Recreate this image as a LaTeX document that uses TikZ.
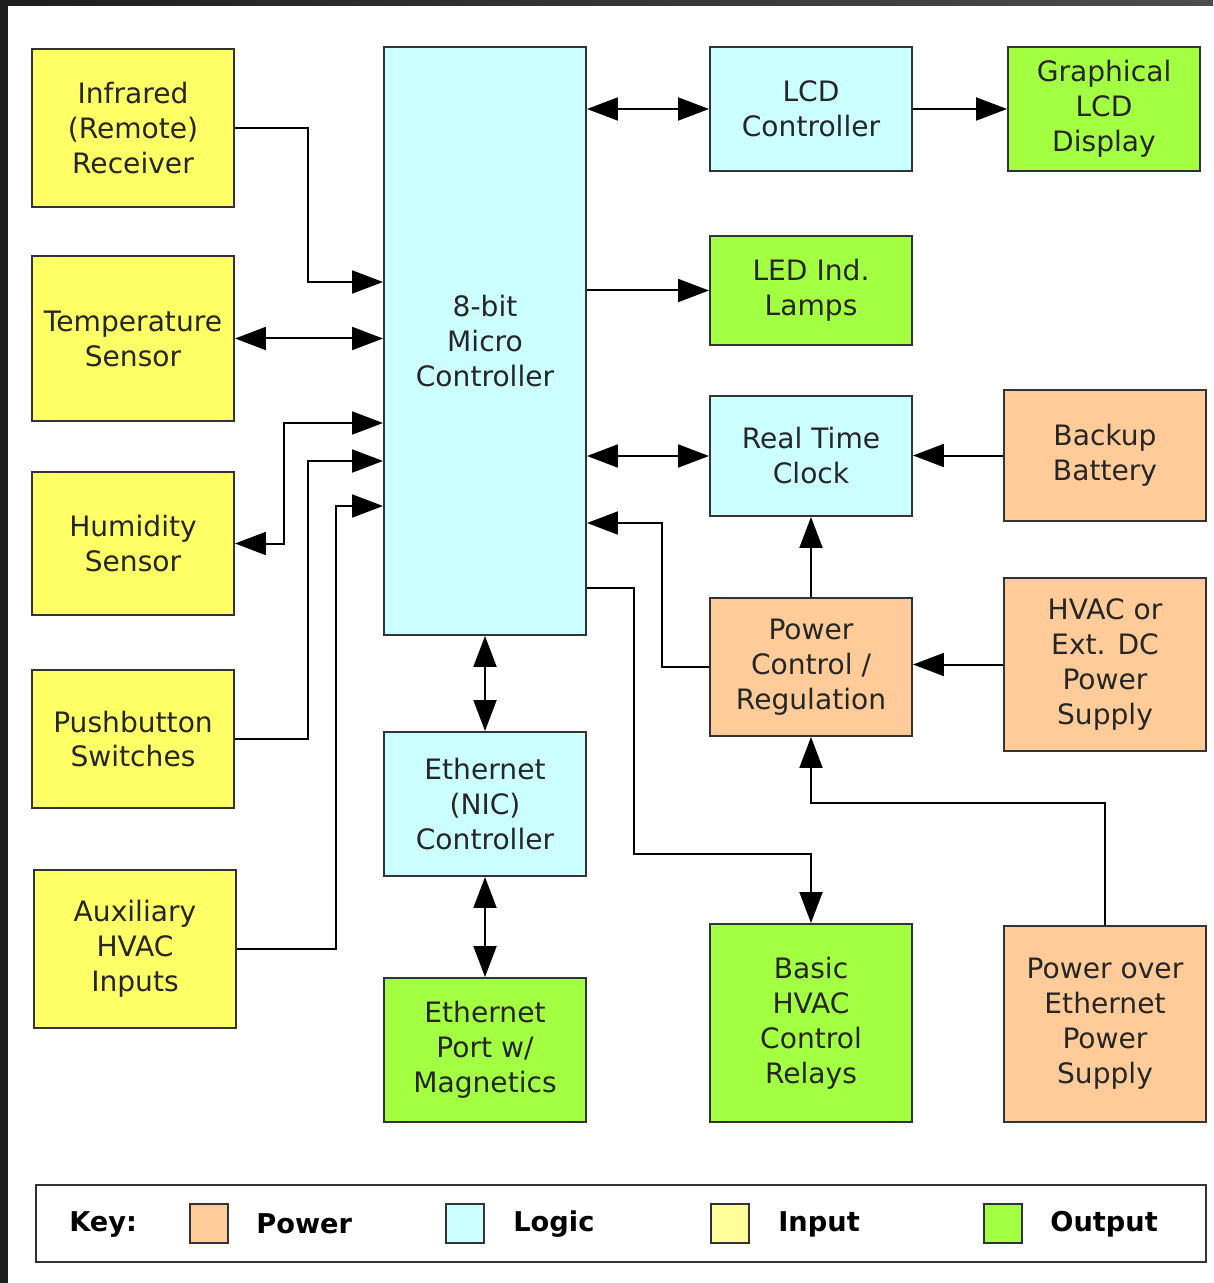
\documentclass[tikz,border=0pt]{standalone}
\usepackage{fontspec}
\setmainfont{DejaVu Sans}
\usetikzlibrary{arrows.meta, positioning, calc}
\definecolor{pwrorange}{HTML}{FFCC99}
\definecolor{logiccyan}{HTML}{CCFFFF}
\definecolor{inyellow}{HTML}{FFFF66}
\definecolor{keyyellow}{HTML}{FFFF99}
\definecolor{outgreen}{HTML}{A2FF42}
\definecolor{framegrey}{HTML}{1E1E1E}
\tikzset{blk/.style={draw=black!80, line width=0.04cm, minimum width=4.04cm, inner sep=0pt, align=center,
    text=black!85, font=\fontsize{16}{19.9}\selectfont}}
\tikzset{arr/.style={-{Triangle[length=0.62cm, width=0.46cm]}, line width=0.04cm}}
\tikzset{dbl/.style={{Triangle[length=0.62cm, width=0.46cm]}-{Triangle[length=0.62cm, width=0.46cm]}, line width=0.04cm}}
\tikzset{swatch/.style={draw=black!80, line width=0.04cm, minimum width=0.76cm, minimum height=0.78cm, inner sep=0pt}}
\tikzset{keytext/.style={anchor=west, inner sep=0pt, font=\fontsize{15.5}{19}\selectfont\bfseries}}

\begin{document}
\begin{tikzpicture}[x=0.02cm, y=-0.02cm]
    \useasboundingbox (0,0) rectangle (1213,1283);
    % frame
    \fill[framegrey] (0,0) rectangle (1213,1283);
    \shade[left color=framegrey, right color=black!70] (8,0) rectangle (1213,6);
    \fill[white] (8,6) rectangle (1213,1283);

    % inputs
    \node[blk, fill=inyellow, minimum height=3.16cm] (IR)  at (133,128)   {Infrared\\(Remote)\\Receiver};
    \node[blk, fill=inyellow, minimum height=3.30cm] (TS)  at (133,338.5) {Temperature\\Sensor};
    \node[blk, fill=inyellow, minimum height=2.86cm] (HS)  at (133,543.5) {Humidity\\Sensor};
    \node[blk, fill=inyellow, minimum height=2.76cm] (PB)  at (133,739)   {Pushbutton\\Switches};
    \node[blk, fill=inyellow, minimum height=3.16cm] (AUX) at (135,949)   {Auxiliary\\HVAC\\Inputs};

    % logic
    \node[blk, fill=logiccyan, minimum height=11.76cm] (MCU)  at (485,341) {8-bit\\Micro\\Controller};
    \node[blk, fill=logiccyan, minimum height=2.48cm]  (LCDC) at (811,109) {LCD\\Controller};
    \node[blk, fill=logiccyan, minimum height=2.40cm]  (RTC)  at (811,456) {Real Time\\Clock};
    \node[blk, fill=logiccyan, minimum height=2.88cm]  (NIC)  at (485,804) {Ethernet\\(NIC)\\Controller};

    % outputs
    \node[blk, fill=outgreen, minimum width=3.84cm, minimum height=2.48cm] (GLCD) at (1104,109) {Graphical\\LCD\\Display};
    \node[blk, fill=outgreen, minimum height=2.18cm] (LED)  at (811,290.5) {LED Ind.\\Lamps};
    \node[blk, fill=outgreen, minimum height=2.88cm] (PORT) at (485,1050)  {Ethernet\\Port w/\\Magnetics};
    \node[blk, fill=outgreen, minimum height=3.96cm] (RLY)  at (811,1023)  {Basic\\HVAC\\Control\\Relays};

    % power
    \node[blk, fill=pwrorange, minimum height=2.62cm] (BAT)  at (1105,455.5) {Backup\\Battery};
    \node[blk, fill=pwrorange, minimum height=2.76cm] (PWR)  at (811,667)    {Power\\Control /\\Regulation};
    \node[blk, fill=pwrorange, minimum height=3.46cm] (DCIN) at (1105,664.5) {HVAC or\\Ext. DC\\Power\\Supply};
    \node[blk, fill=pwrorange, minimum height=3.92cm] (POE)  at (1105,1024)  {Power over\\Ethernet\\Power\\Supply};

    % left side
    \draw[arr] (IR.east) -| (308,282) -- (MCU.west |- 0,282);
    \draw[dbl] (TS.east) -- (TS.east -| MCU.west);
    \draw[dbl] (HS.east) -| (284,423) -- (MCU.west |- 0,423);
    \draw[arr] (PB.east) -| (308,461) -- (MCU.west |- 0,461);
    \draw[arr] (AUX.east) -| (336,506) -- (MCU.west |- 0,506);

    % right side
    \draw[dbl] (LCDC.west -| MCU.east) -- (LCDC.west);
    \draw[arr] (LCDC.east) -- (GLCD.west);
    \draw[arr] (LED.west -| MCU.east) -- (LED.west);
    \draw[dbl] (RTC.west -| MCU.east) -- (RTC.west);
    \draw[arr] (BAT.west) -- (BAT.west -| RTC.east);
    \draw[arr] (PWR.north) -- (RTC.south);
    \draw[arr] (PWR.west) -| (662,523) -- (MCU.east |- 0,523);
    \draw[arr] (DCIN.west) -- (DCIN.west -| PWR.east);
    \draw[arr] (MCU.east |- 0,588) -| (634,854) -| (RLY.north);
    \draw[arr] (POE.north) |- (PWR.south |- 0,803) -- (PWR.south);

    % ethernet
    \draw[dbl] (MCU.south) -- (NIC.north);
    \draw[dbl] (NIC.south) -- (PORT.north);

    % key
    \node[draw=black!80, line width=0.04cm, minimum width=23.4cm, minimum height=1.54cm] (KEY) at (621,1223.5) {};
    \node[keytext] (KEYL) at (69,1224) {Key:};
    \node[swatch, fill=pwrorange] (KP) at (209,1223.5) {};
    \node[keytext] (KPL) at (256,1224) {Power};
    \node[swatch, fill=logiccyan] (KL) at (465,1223.5) {};
    \node[keytext] (KLL) at (513,1224) {Logic};
    \node[swatch, fill=keyyellow] (KI) at (730,1223.5) {};
    \node[keytext] (KIL) at (778,1224) {Input};
    \node[swatch, fill=outgreen] (KO) at (1003,1223.5) {};
    \node[keytext] (KOL) at (1050,1224) {Output};
\end{tikzpicture}
\end{document}
